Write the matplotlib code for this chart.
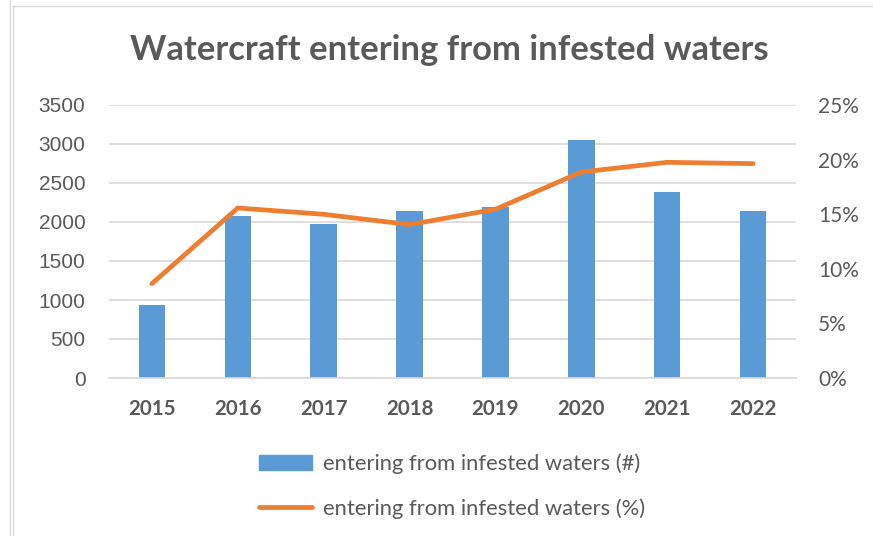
#! /usr/bin/env python

# Watercraft entering from infested waters - count (bars) and share (line)

import matplotlib
matplotlib.use('Agg')
import matplotlib.pyplot as plt
from matplotlib.patches import Rectangle
from matplotlib.lines import Line2D
from matplotlib.ticker import FuncFormatter

years = ['2015', '2016', '2017', '2018', '2019', '2020', '2021', '2022']
count = [932, 2073, 1980, 2146, 2192, 3047, 2390, 2141]          # number of watercraft
percent = [8.64, 15.57, 14.99, 14.05, 15.45, 18.86, 19.75, 19.63]  # % of inspected

bar_color = '#5B9BD5'
line_color = '#ED7D31'
text_color = '#595959'
grid_color = '#D9D9D9'
font = ['Lato', 'DejaVu Sans']
arial = ['Liberation Sans', 'DejaVu Sans']

fig = plt.figure(figsize=(8.73, 5.36), dpi=100)

# screenshot frame lines
fig.add_artist(Line2D([10/873, 10/873], [0, 1], color='#D9D9D9', lw=1))
fig.add_artist(Rectangle((13/873, -0.1), 1.0, 1.1 - 6/536, fill=False,
                         edgecolor='#D9D9D9', lw=1, transform=fig.transFigure))

ax = fig.add_axes([109/873, 1 - 378/536, 687/873, 273/536])
x = range(len(years))
ax.bar(x, count, width=0.31, color=bar_color, zorder=2)
ax.set_xlim(-0.5, len(years) - 0.5)
ax.set_ylim(0, 3500)
ax.set_yticks(range(0, 3501, 500))
ax.set_xticks(list(x))
ax.set_xticklabels(years, fontweight='bold')
ax.grid(True, axis='y', color=grid_color, lw=1.2)
ax.set_axisbelow(True)
for s in ['top', 'right', 'left']:
    ax.spines[s].set_visible(False)
ax.spines['bottom'].set_color(grid_color)
ax.spines['bottom'].set_linewidth(1.2)
ax.tick_params(length=0, colors=text_color)
ax.tick_params(axis='x', pad=15, labelsize=14.8)
ax.tick_params(axis='y', pad=17, labelsize=15)
for lab in ax.get_xticklabels():
    lab.set_family(font)
for lab in ax.get_yticklabels():
    lab.set_family(arial)

ax2 = ax.twinx()
ax2.plot(x, percent, color=line_color, lw=3.4, solid_capstyle='round',
         solid_joinstyle='round', zorder=3)
ax2.set_ylim(0, 25)
ax2.set_yticks(range(0, 26, 5))
ax2.yaxis.set_major_formatter(FuncFormatter(lambda v, p: '%d%%' % v))
for s in ['top', 'right', 'left', 'bottom']:
    ax2.spines[s].set_visible(False)
ax2.tick_params(length=0, colors=text_color, labelsize=15, pad=16)
for lab in ax2.get_yticklabels():
    lab.set_family(font)

fig.text(449/873, 1 - 50/536, 'Watercraft entering from infested waters',
         ha='center', va='center', fontsize=24.9, fontweight='bold',
         color=text_color, family=font)

# legend, stacked below the plot
handles = [Rectangle((0, 0), 1, 1, color=bar_color),
           Line2D([0], [0], color=line_color, lw=3.4, solid_capstyle='round')]
labels = ['entering from infested waters (#)', 'entering from infested waters (%)']
leg = fig.legend(handles, labels, loc='center', bbox_to_anchor=(452/873, 1 - 486/536),
                 frameon=False, handlelength=2.4, handleheight=0.65, handletextpad=0.5,
                 labelspacing=1.1, prop={'family': font, 'size': 15.8})
for t in leg.get_texts():
    t.set_color(text_color)

plt.savefig('out.png', dpi=100)
